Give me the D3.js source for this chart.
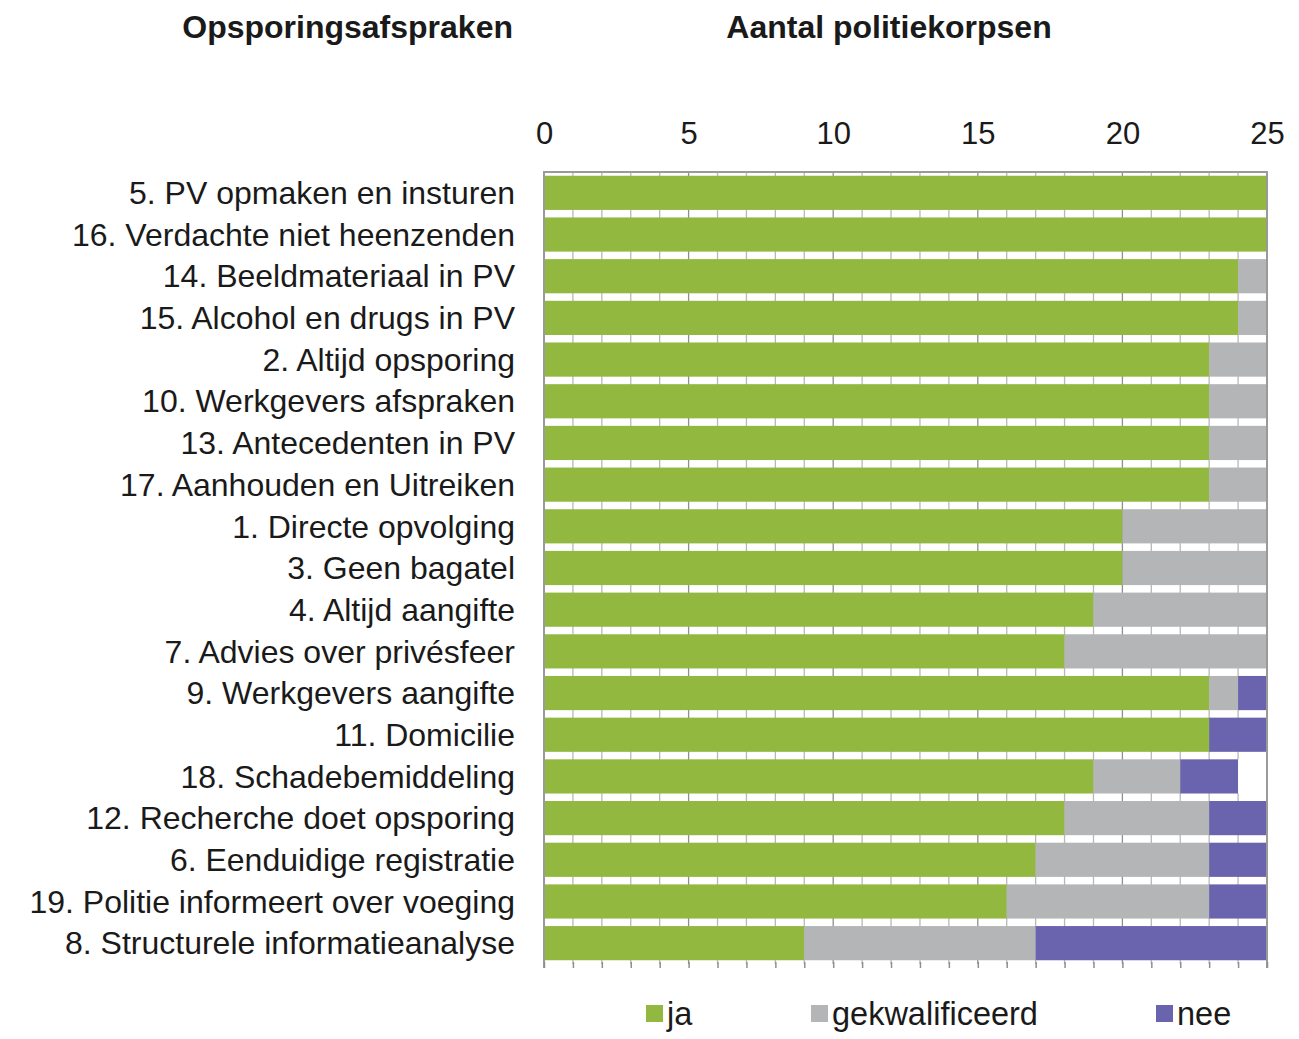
<!DOCTYPE html>
<html>
<head>
<meta charset="utf-8">
<script src="https://cdn.jsdelivr.net/npm/d3@7"></script>
<style>
  html, body { margin: 0; padding: 0; background: #ffffff; }
  svg { display: block; font-family: "Liberation Sans", Arial, sans-serif; }
</style>
</head>
<body>
<svg id="chart" width="1299" height="1039"></svg>
<script>
const categories = [
  "5. PV opmaken en insturen",
  "16. Verdachte niet heenzenden",
  "14. Beeldmateriaal in PV",
  "15. Alcohol en drugs in PV",
  "2. Altijd opsporing",
  "10. Werkgevers afspraken",
  "13. Antecedenten in PV",
  "17. Aanhouden en Uitreiken",
  "1. Directe opvolging",
  "3. Geen bagatel",
  "4. Altijd aangifte",
  "7. Advies over privésfeer",
  "9. Werkgevers aangifte",
  "11. Domicilie",
  "18. Schadebemiddeling",
  "12. Recherche doet opsporing",
  "6. Eenduidige registratie",
  "19. Politie informeert over voeging",
  "8. Structurele informatieanalyse"
];
const ja            = [25, 25, 24, 24, 23, 23, 23, 23, 20, 20, 19, 18, 23, 23, 19, 18, 17, 16, 9];
const gekwalificeerd = [0, 0, 1, 1, 2, 2, 2, 2, 5, 5, 6, 7, 1, 0, 3, 5, 6, 7, 8];
const nee           = [0, 0, 0, 0, 0, 0, 0, 0, 0, 0, 0, 0, 1, 2, 2, 2, 2, 2, 8];
const onbekend      = [0, 0, 0, 0, 0, 0, 0, 0, 0, 0, 0, 0, 0, 0, 1, 0, 0, 0, 0];
const seriesNames = ["ja", "gekwalificeerd", "nee", "onbekend"];
const legendNames = ["ja", "gekwalificeerd", "nee"];
const xTicks = [0, 5, 10, 15, 20, 25];
const titleLeft = "Opsporingsafspraken";
const titleRight = "Aantal politiekorpsen";

const colors = { ja: "#93b840", gekwalificeerd: "#b4b5b7", nee: "#6a63ae", onbekend: "#ffffff" };

const table = categories.map((c, i) => ({
  cat: c, ja: ja[i], gekwalificeerd: gekwalificeerd[i], nee: nee[i], onbekend: onbekend[i]
}));

const svg = d3.select("#chart");
const L = 544, R = 1267, T = 172, B = 964;

const x = d3.scaleLinear().domain([0, 25]).range([L, R]);
const y = d3.scaleBand().domain(categories).range([T, B]).paddingInner(0.18).paddingOuter(0.09);

// gridlines
svg.append("g").selectAll("line").data(d3.range(0, 26)).join("line")
  .attr("x1", d => x(d)).attr("x2", d => x(d))
  .attr("y1", T).attr("y2", B)
  .attr("stroke", d => d % 5 === 0 ? "#8f8f8f" : "#b8b8b8")
  .attr("stroke-width", 1.3);

// bars
const stack = d3.stack().keys(seriesNames)(table);
svg.append("g").selectAll("g").data(stack).join("g")
  .attr("fill", s => colors[s.key])
  .selectAll("rect").data(s => s).join("rect")
  .attr("x", d => x(d[0]))
  .attr("width", d => x(d[1]) - x(d[0]))
  .attr("y", d => y(d.data.cat))
  .attr("height", y.bandwidth());

// border (left, top, right)
svg.append("path")
  .attr("d", `M${L},${B + 4}V${T}H${R}V${B + 4}`)
  .attr("fill", "none").attr("stroke", "#9a9a9a").attr("stroke-width", 2);

// bottom ticks
const bottomAxis = svg.append("g").attr("transform", `translate(0,${B - 2})`)
  .call(d3.axisBottom(x).tickValues(d3.range(0, 26)).tickSize(6).tickFormat(""));
bottomAxis.select(".domain").remove();
bottomAxis.selectAll("line").attr("stroke", "#8f8f8f").attr("stroke-width", 1.5);

// top axis labels
const topAxis = svg.append("g").attr("transform", `translate(0,${T})`)
  .call(d3.axisTop(x).tickValues(xTicks).tickSize(0).tickPadding(28));
topAxis.select(".domain").remove();
topAxis.selectAll("text")
  .attr("font-family", "'Liberation Sans', Arial, sans-serif")
  .attr("font-size", 31).attr("fill", "#1a1a1a");

// category labels
svg.append("g").selectAll("text").data(categories).join("text")
  .attr("x", 515)
  .attr("y", d => y(d) + y.bandwidth() / 2)
  .attr("dy", "0.35em")
  .attr("text-anchor", "end")
  .attr("font-size", 32)
  .attr("fill", "#1a1a1a")
  .text(d => d);

// titles
svg.append("text").attr("x", 513).attr("y", 27).attr("dy", "0.35em")
  .attr("text-anchor", "end").attr("font-size", 32).attr("font-weight", "bold")
  .attr("fill", "#1a1a1a").text(titleLeft);
svg.append("text").attr("x", 889).attr("y", 27).attr("dy", "0.35em")
  .attr("text-anchor", "middle").attr("font-size", 32).attr("font-weight", "bold")
  .attr("fill", "#1a1a1a").text(titleRight);

// legend
const legendX = { ja: 646, gekwalificeerd: 811, nee: 1156 };
const lg = svg.append("g").selectAll("g").data(legendNames).join("g")
  .attr("transform", d => `translate(${legendX[d]},1005)`);
lg.append("rect").attr("width", 17).attr("height", 17).attr("fill", d => colors[d]);
lg.append("text").attr("x", 21).attr("y", 9).attr("dy", "0.35em")
  .attr("font-size", 32.5).attr("fill", "#1a1a1a").text(d => d);
</script>
</body>
</html>
